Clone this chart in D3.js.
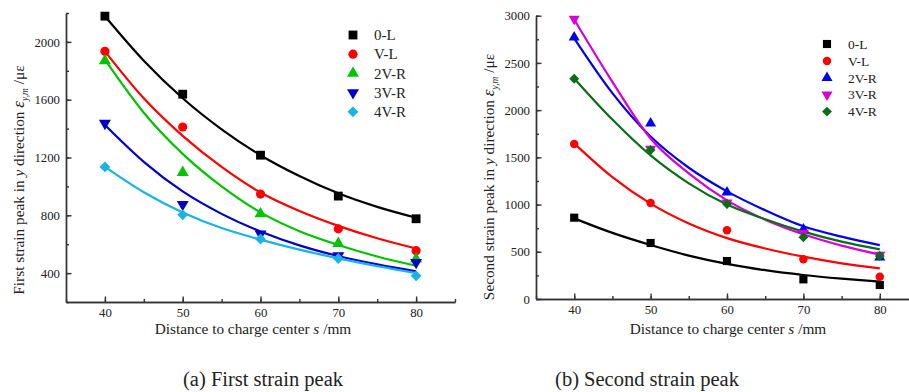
<!DOCTYPE html>
<html>
<head>
<meta charset="utf-8">
<script src="https://cdn.jsdelivr.net/npm/d3@7"></script>
<style>
  body { margin: 0; background: #fff; }
  svg text { font-family: "Liberation Serif", "Times New Roman", Times, serif; }
  .axis text { font-size: 12.8px; fill: #222; }
  .axis path, .axis line { stroke: #333; stroke-width: 1.4; }
</style>
</head>
<body>
<div id="chart"></div>
<script>
// data
const distances = [40, 50, 60, 70, 80];
const fitDistances = [40, 45, 50, 55, 60, 65, 70, 75, 80];
const seriesNames = ["0-L", "V-L", "2V-R", "3V-R", "4V-R"];

// (a) first strain peak, measured points
const first_0L = [2178, 1638, 1216, 933, 776];
const first_VL = [1935, 1411, 947, 706, 555];
const first_2VR = [1870, 1096, 810, 605, 497];
const first_3VR = [1437, 875, 671, 520, 474];
const first_4VR = [1135, 803, 636, 501, 381];
// (a) fitted curves
const firstFit_0L = [2178, 1870, 1610, 1395, 1216, 1072, 952, 858, 783];
const firstFit_VL = [1935, 1610, 1350, 1135, 958, 830, 727, 641, 570];
const firstFit_2VR = [1877, 1510, 1225, 1000, 820, 690, 595, 515, 451];
const firstFit_3VR = [1425, 1170, 965, 810, 688, 592, 518, 460, 412];
const firstFit_4VR = [1135, 960, 820, 712, 632, 562, 502, 448, 400];

// (b) second strain peak, measured points
const second_0L = [861, 593, 402, 208, 148];
const second_VL = [1641, 1016, 727, 420, 236];
const second_2VR = [2770, 1860, 1129, 738, 441];
const second_3VR = [2965, 1590, 1020, 700, 466];
const second_4VR = [2333, 1578, 1006, 653, 455];
// (b) fitted curves
const secondFit_0L = [854, 700, 572, 460, 372, 305, 254, 215, 183];
const secondFit_VL = [1648, 1290, 1010, 800, 645, 535, 448, 378, 325];
const secondFit_2VR = [2760, 2180, 1720, 1390, 1140, 940, 770, 660, 570];
const secondFit_3VR = [2960, 2300, 1700, 1330, 1045, 840, 685, 565, 470];
const secondFit_4VR = [2336, 1900, 1520, 1225, 1000, 845, 713, 607, 526];

const firstTicks = [400, 800, 1200, 1600, 2000];
const secondTicks = [0, 500, 1000, 1500, 2000, 2500, 3000];

const serif = "'Liberation Serif', 'Times New Roman', Times, serif";
const width = 909, height = 392;
const svg = d3.select("#chart").append("svg")
  .attr("width", width).attr("height", height)
  .attr("font-family", serif);

const symbols = [
  { type: d3.symbolSquare, size: 78, rotate: 0 },
  { type: d3.symbolCircle, size: 66, rotate: 0 },
  { type: d3.symbolTriangle, size: 62, rotate: 0 },
  { type: d3.symbolTriangle, size: 62, rotate: 180 },
  { type: d3.symbolSquare, size: 58, rotate: 45 }
];

const panels = [
  {
    left: 66, right: 455, top: 13, bottom: 302,
    yDomain: [200, 2200], yTicks: firstTicks, yMinor: d3.range(200, 2201, 200),
    points: [first_0L, first_VL, first_2VR, first_3VR, first_4VR],
    fits: [firstFit_0L, firstFit_VL, firstFit_2VR, firstFit_3VR, firstFit_4VR],
    colors: ["#000000", "#ff0000", "#00c400", "#0000c8", "#18b4e6"],
    title: "First strain peak in ", titleX: 19, titleY: 180,
    xTitleX: 253, caption: "(a) First strain peak", captionX: 263,
    legendX: 353, legendY: 35, legendStep: 19.2, legendFont: 15, legendScale: 1
  },
  {
    left: 536, right: 918, top: 15.7, bottom: 299,
    yDomain: [0, 3000], yTicks: secondTicks, yMinor: d3.range(0, 3001, 250),
    points: [second_0L, second_VL, second_2VR, second_3VR, second_4VR],
    fits: [secondFit_0L, secondFit_VL, secondFit_2VR, secondFit_3VR, secondFit_4VR],
    colors: ["#000000", "#ff0000", "#0000f0", "#d800d8", "#0a6e14"],
    title: "Second strain peak in ", titleX: 489, titleY: 177,
    xTitleX: 728, caption: "(b) Second strain peak", captionX: 647,
    legendX: 827, legendY: 44, legendStep: 16.9, legendFont: 13.5, legendScale: 0.85
  }
];

panels.forEach(p => {
  const x = d3.scaleLinear().domain([35, 85]).range([p.left, p.right]);
  const y = d3.scaleLinear().domain(p.yDomain).range([p.bottom, p.top]);

  // minor ticks
  svg.append("g").attr("class", "axis")
    .attr("transform", `translate(0,${p.bottom})`)
    .call(d3.axisBottom(x).tickValues(d3.range(35, 86, 5)).tickSize(-3).tickSizeOuter(0).tickFormat(""));
  svg.append("g").attr("class", "axis")
    .attr("transform", `translate(${p.left},0)`)
    .call(d3.axisLeft(y).tickValues(p.yMinor).tickSize(-3).tickSizeOuter(0).tickFormat(""));

  // major ticks + labels
  svg.append("g").attr("class", "axis")
    .attr("transform", `translate(0,${p.bottom})`)
    .call(d3.axisBottom(x).tickValues(distances).tickSize(-5.5).tickSizeOuter(0).tickPadding(6).tickFormat(d3.format("d")))
    .attr("font-family", serif);
  svg.append("g").attr("class", "axis")
    .attr("transform", `translate(${p.left},0)`)
    .call(d3.axisLeft(y).tickValues(p.yTicks).tickSize(-5.5).tickSizeOuter(0).tickPadding(6).tickFormat(d3.format("d")))
    .attr("font-family", serif);

  // fitted curves
  const line = d3.line()
    .x((d, i) => x(fitDistances[i]))
    .y(d => y(d))
    .curve(d3.curveMonotoneX);
  p.fits.forEach((f, k) => {
    svg.append("path").datum(f)
      .attr("d", line)
      .attr("fill", "none")
      .attr("stroke", p.colors[k])
      .attr("stroke-width", 2.2);
  });

  // measured points
  p.points.forEach((vals, k) => {
    const s = symbols[k];
    svg.append("g").selectAll("path")
      .data(vals)
      .enter().append("path")
      .attr("d", d3.symbol().type(s.type).size(s.size * p.legendScale))
      .attr("transform", (d, i) => `translate(${x(distances[i])},${y(d)}) rotate(${s.rotate})`)
      .attr("fill", p.colors[k]);
  });

  // legend
  const lg = svg.append("g");
  seriesNames.forEach((name, k) => {
    const s = symbols[k];
    const ly = p.legendY + k * p.legendStep;
    lg.append("path")
      .attr("d", d3.symbol().type(s.type).size(s.size * p.legendScale))
      .attr("transform", `translate(${p.legendX},${ly}) rotate(${s.rotate})`)
      .attr("fill", p.colors[k]);
    lg.append("text")
      .attr("x", p.legendX + 21)
      .attr("y", ly)
      .attr("dy", "0.35em")
      .attr("font-family", serif)
      .attr("font-size", p.legendFont + "px")
      .attr("fill", "#222")
      .text(name);
  });

  // y title
  const yt = svg.append("text")
    .attr("transform", `translate(${p.titleX},${p.titleY}) rotate(-90)`)
    .attr("text-anchor", "middle")
    .attr("dy", "0.35em")
    .attr("font-family", serif)
    .attr("font-size", "15.3px")
    .attr("fill", "#222");
  yt.append("tspan").text(p.title);
  yt.append("tspan").attr("font-style", "italic").text("y");
  yt.append("tspan").text(" direction ");
  yt.append("tspan").attr("font-style", "italic").attr("font-size", "17px").text("ε");
  yt.append("tspan").attr("font-style", "italic").attr("font-size", "9.5px").attr("dy", "4").text("y,m");
  yt.append("tspan").attr("dy", "-4").text(" /με");

  // x title
  const xt = svg.append("text")
    .attr("x", p.xTitleX).attr("y", 334)
    .attr("text-anchor", "middle")
    .attr("font-family", serif)
    .attr("font-size", "15.3px")
    .attr("fill", "#222");
  xt.append("tspan").text("Distance to charge center ");
  xt.append("tspan").attr("font-style", "italic").text("s");
  xt.append("tspan").text(" /mm");

  // caption
  svg.append("text")
    .attr("x", p.captionX).attr("y", 386)
    .attr("text-anchor", "middle")
    .attr("font-family", serif)
    .attr("font-size", "20.5px")
    .attr("fill", "#222")
    .text(p.caption);
});
</script>
</body>
</html>
